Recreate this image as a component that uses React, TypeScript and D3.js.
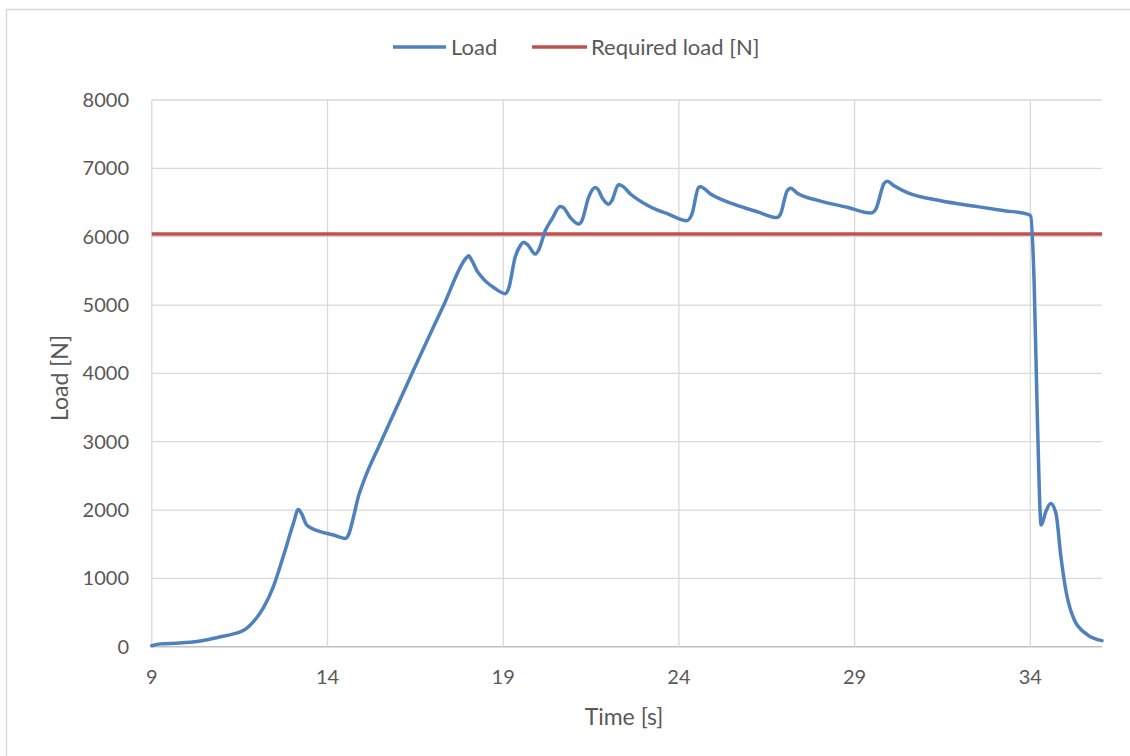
import React from "react";
import * as d3 from "d3";

const loadTime: number[] = [
  9.0, 9.25, 9.7, 10.1, 10.5, 10.9, 11.3, 11.5, 11.7, 11.9, 12.17, 12.46, 12.74, 13.03, 13.17, 13.26, 13.41, 13.79,
  14.17, 14.5, 14.6, 14.74, 14.88, 15.05, 15.5, 16.4, 17.3, 17.97, 18.02, 18.1, 18.25, 18.44, 18.72, 19.06, 19.15,
  19.34, 19.5, 19.58, 19.7, 19.91, 20.0, 20.2, 20.39, 20.62, 20.7, 20.91, 21.15, 21.24, 21.43, 21.62, 21.7, 21.81,
  22.0, 22.09, 22.28, 22.38, 22.62, 23.14, 23.7, 24.23, 24.37, 24.56, 24.61, 24.9, 25.56, 26.23, 26.79, 26.89, 27.08,
  27.18, 27.37, 27.93, 28.79, 29.46, 29.6, 29.84, 29.93, 30.12, 30.5, 31.45, 32.5, 33.26, 33.92, 34.01, 34.11, 34.2,
  34.31, 34.44, 34.58, 34.73, 34.87, 35.01, 35.25, 35.63, 36.04,
];
const loadValue: number[] = [
  15, 42, 52, 65, 95, 140, 185, 215, 270, 370, 565, 880, 1320, 1805, 2010, 1950, 1780, 1685,
  1635, 1585, 1640, 1900, 2200, 2450, 2975, 3995, 4990, 5700, 5720, 5660, 5505, 5380, 5260, 5165, 5235,
  5700, 5880, 5920, 5880, 5745, 5795, 6090, 6260, 6440, 6430, 6280, 6185, 6235, 6575, 6720, 6690, 6575,
  6475, 6525, 6760, 6745, 6625, 6450, 6330, 6235, 6330, 6720, 6730, 6625, 6475, 6365, 6280, 6330, 6670,
  6710, 6635, 6535, 6430, 6345, 6400, 6780, 6810, 6745, 6645, 6525, 6440, 6380, 6330, 6305, 5310, 3360,
  1780, 1975, 2095, 1950, 1320, 830, 395, 175, 90,
];
const requiredLoad = 6040;
const xTicks: number[] = [9, 14, 19, 24, 29, 34];
const yTicks: number[] = [0, 1000, 2000, 3000, 4000, 5000, 6000, 7000, 8000];
const seriesNames: string[] = ["Load", "Required load [N]"];
const seriesColors: string[] = ["#4F81BD", "#C0504D"];
const xTitle = "Time [s]";
const yTitle = "Load [N]";

const W = 1130;
const H = 756;
const plot = { left: 151.8, right: 1102, top: 100, bottom: 646.75 };
const font = "Lato, 'Open Sans', sans-serif";
const textColor = "#595959";
const gridColor = "#D9D9D9";

export default function App() {
  const x = d3.scaleLinear().domain([9, 36.04]).range([plot.left, plot.right]);
  const y = d3.scaleLinear().domain([0, 8000]).range([plot.bottom, plot.top]);

  const pts: [number, number][] = loadTime.map((t, i) => [t, loadValue[i]]);
  const line = d3
    .line<[number, number]>()
    .x((d) => x(d[0]))
    .y((d) => y(d[1]))
    .curve(d3.curveMonotoneX);

  const legendY = 47;
  return (
    <svg
      width={W}
      height={H}
      style={{ position: "absolute", left: 0, top: 0, background: "#fff" }}
      fontFamily={font}
    >
      <rect x={0} y={0} width={W} height={H} fill="#fff" />
      <rect x={6.5} y={9.5} width={W + 50} height={H + 50} fill="none" stroke={gridColor} strokeWidth={1.5} />

      {yTicks.map((v) => (
        <line
          key={"h" + v}
          x1={plot.left}
          x2={plot.right}
          y1={y(v)}
          y2={y(v)}
          stroke={v === 0 ? "#BFBFBF" : gridColor}
          strokeWidth={1.3}
        />
      ))}
      {xTicks.map((t) => (
        <line key={"v" + t} x1={x(t)} x2={x(t)} y1={plot.top} y2={plot.bottom} stroke={gridColor} strokeWidth={1.3} />
      ))}

      <line
        x1={plot.left}
        x2={plot.right}
        y1={y(requiredLoad)}
        y2={y(requiredLoad)}
        stroke={seriesColors[1]}
        strokeWidth={3.5}
      />
      <path d={line(pts) || ""} fill="none" stroke={seriesColors[0]} strokeWidth={3.5} strokeLinejoin="round" strokeLinecap="round" />

      {yTicks.map((v) => (
        <text key={"yl" + v} x={129} y={y(v)} dy="0.35em" textAnchor="end" fontSize={20} fill={textColor}>
          {v}
        </text>
      ))}
      {xTicks.map((t) => (
        <text key={"xl" + t} x={x(t)} y={677} dy="0.35em" textAnchor="middle" fontSize={20} fill={textColor}>
          {t}
        </text>
      ))}

      <text x={624} y={717} dy="0.35em" textAnchor="middle" fontSize={23} fill={textColor}>
        {xTitle}
      </text>
      <text
        transform={`translate(60, 378) rotate(-90)`}
        dy="0.35em"
        textAnchor="middle"
        fontSize={23}
        fill={textColor}
      >
        {yTitle}
      </text>

      <line x1={393} x2={446} y1={legendY} y2={legendY} stroke={seriesColors[0]} strokeWidth={3.5} />
      <text x={451} y={legendY} dy="0.35em" fontSize={22} fill={textColor}>
        {seriesNames[0]}
      </text>
      <line x1={532} x2={587} y1={legendY} y2={legendY} stroke={seriesColors[1]} strokeWidth={3.5} />
      <text x={591} y={legendY} dy="0.35em" fontSize={22} fill={textColor}>
        {seriesNames[1]}
      </text>
    </svg>
  );
}
